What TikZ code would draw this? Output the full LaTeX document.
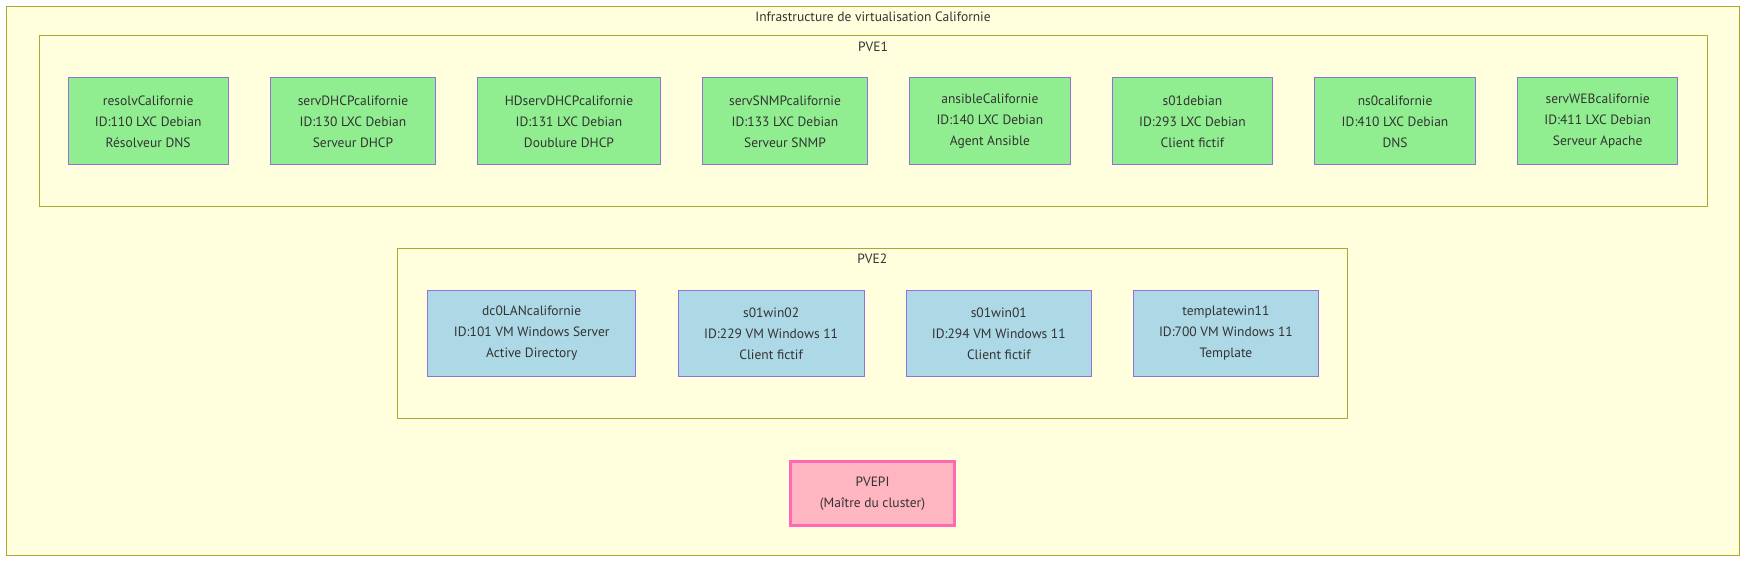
\documentclass[tikz,border=0pt]{standalone}
\usepackage{fontspec}
\setmainfont{PT Sans}
\usepackage{tikz}
\usetikzlibrary{positioning}
\definecolor{clfill}{HTML}{FFFFDE}
\definecolor{cldraw}{HTML}{AAAA33}
\definecolor{nddraw}{HTML}{9370DB}
\definecolor{lxcfill}{HTML}{90EE90}
\definecolor{vmfill}{HTML}{ADD8E6}
\definecolor{pifill}{HTML}{FFB6C1}
\definecolor{pidraw}{HTML}{FF69B4}
\definecolor{txt}{HTML}{333333}
\tikzstyle{cluster} = [rectangle, draw=cldraw, fill=clfill, line width=1pt,
                       inner sep=0pt]
\tikzstyle{clabel}  = [text=txt, inner sep=0pt, font=\fontsize{13.5}{16}\selectfont]
\tikzstyle{lxc}     = [rectangle, minimum height=86.9pt, align=center,
                       draw=nddraw, fill=lxcfill, text=txt, line width=1pt,
                       outer sep=0pt, font=\fontsize{13.5}{21}\selectfont]
\tikzstyle{vm}      = [lxc, minimum height=85.8pt, fill=vmfill]
\tikzstyle{master}  = [lxc, minimum height=64pt, fill=pifill, draw=pidraw,
                       line width=3.5pt]

\begin{document}
\begin{tikzpicture}[x=1pt, y=-1pt, node distance=42.3pt]
\useasboundingbox (0,0) rectangle (1746,562);

% clusters
\node (infra) [cluster, minimum width=1732.3pt, minimum height=548.3pt] at (873,280.9) {};
\node (infralbl) [clabel] at ([yshift=-10.5pt]infra.north) {Infrastructure de virtualisation Californie};

\node (pve1) [cluster, minimum width=1668pt, minimum height=170.4pt] at (873,120.8) {};
\node (pve1lbl) [clabel] at ([yshift=-11.5pt]pve1.north) {PVE1};

\node (pve2) [cluster, minimum width=949.5pt, minimum height=170.7pt] at (872.3,333.4) {};
\node (pve2lbl) [clabel] at ([yshift=-11pt]pve2.north) {PVE2};

% conteneurs LXC sur PVE1
\node (resolv)   [lxc, minimum width=160.3pt, anchor=west] at (68,121.4)
                 {resolvCalifornie\\ID:110 LXC Debian\\Résolveur DNS};
\node (servdhcp) [lxc, minimum width=164.8pt, right=of resolv]
                 {servDHCPcalifornie\\ID:130 LXC Debian\\Serveur DHCP};
\node (hddhcp)   [lxc, minimum width=182.6pt, right=of servdhcp]
                 {HDservDHCPcalifornie\\ID:131 LXC Debian\\Doublure DHCP};
\node (servsnmp) [lxc, minimum width=164.8pt, right=of hddhcp]
                 {servSNMPcalifornie\\ID:133 LXC Debian\\Serveur SNMP};
\node (ansible)  [lxc, minimum width=160.3pt, right=of servsnmp]
                 {ansibleCalifornie\\ID:140 LXC Debian\\Agent Ansible};
\node (s01deb)   [lxc, minimum width=160.3pt, right=of ansible]
                 {s01debian\\ID:293 LXC Debian\\Client fictif};
\node (ns0)      [lxc, minimum width=160.3pt, right=of s01deb]
                 {ns0californie\\ID:410 LXC Debian\\DNS};
\node (servweb)  [lxc, minimum width=160.3pt, right=of ns0]
                 {servWEBcalifornie\\ID:411 LXC Debian\\Serveur Apache};

% VM sur PVE2
\node (dc0lan)   [vm, minimum width=208.2pt, anchor=west] at (427.6,333.5)
                 {dc0LANcalifornie\\ID:101 VM Windows Server\\Active Directory};
\node (win02)    [vm, minimum width=186pt, right=of dc0lan]
                 {s01win02\\ID:229 VM Windows 11\\Client fictif};
\node (win01)    [vm, minimum width=184.8pt, right=of win02]
                 {s01win01\\ID:294 VM Windows 11\\Client fictif};
\node (tplwin)   [vm, minimum width=184.8pt, right=of win01]
                 {templatewin11\\ID:700 VM Windows 11\\Template};

% maitre du cluster
\node (pvepi)    [master, minimum width=163.7pt] at (872.5,493.3)
                 {PVEPI\\(Maître du cluster)};

\end{tikzpicture}
\end{document}
